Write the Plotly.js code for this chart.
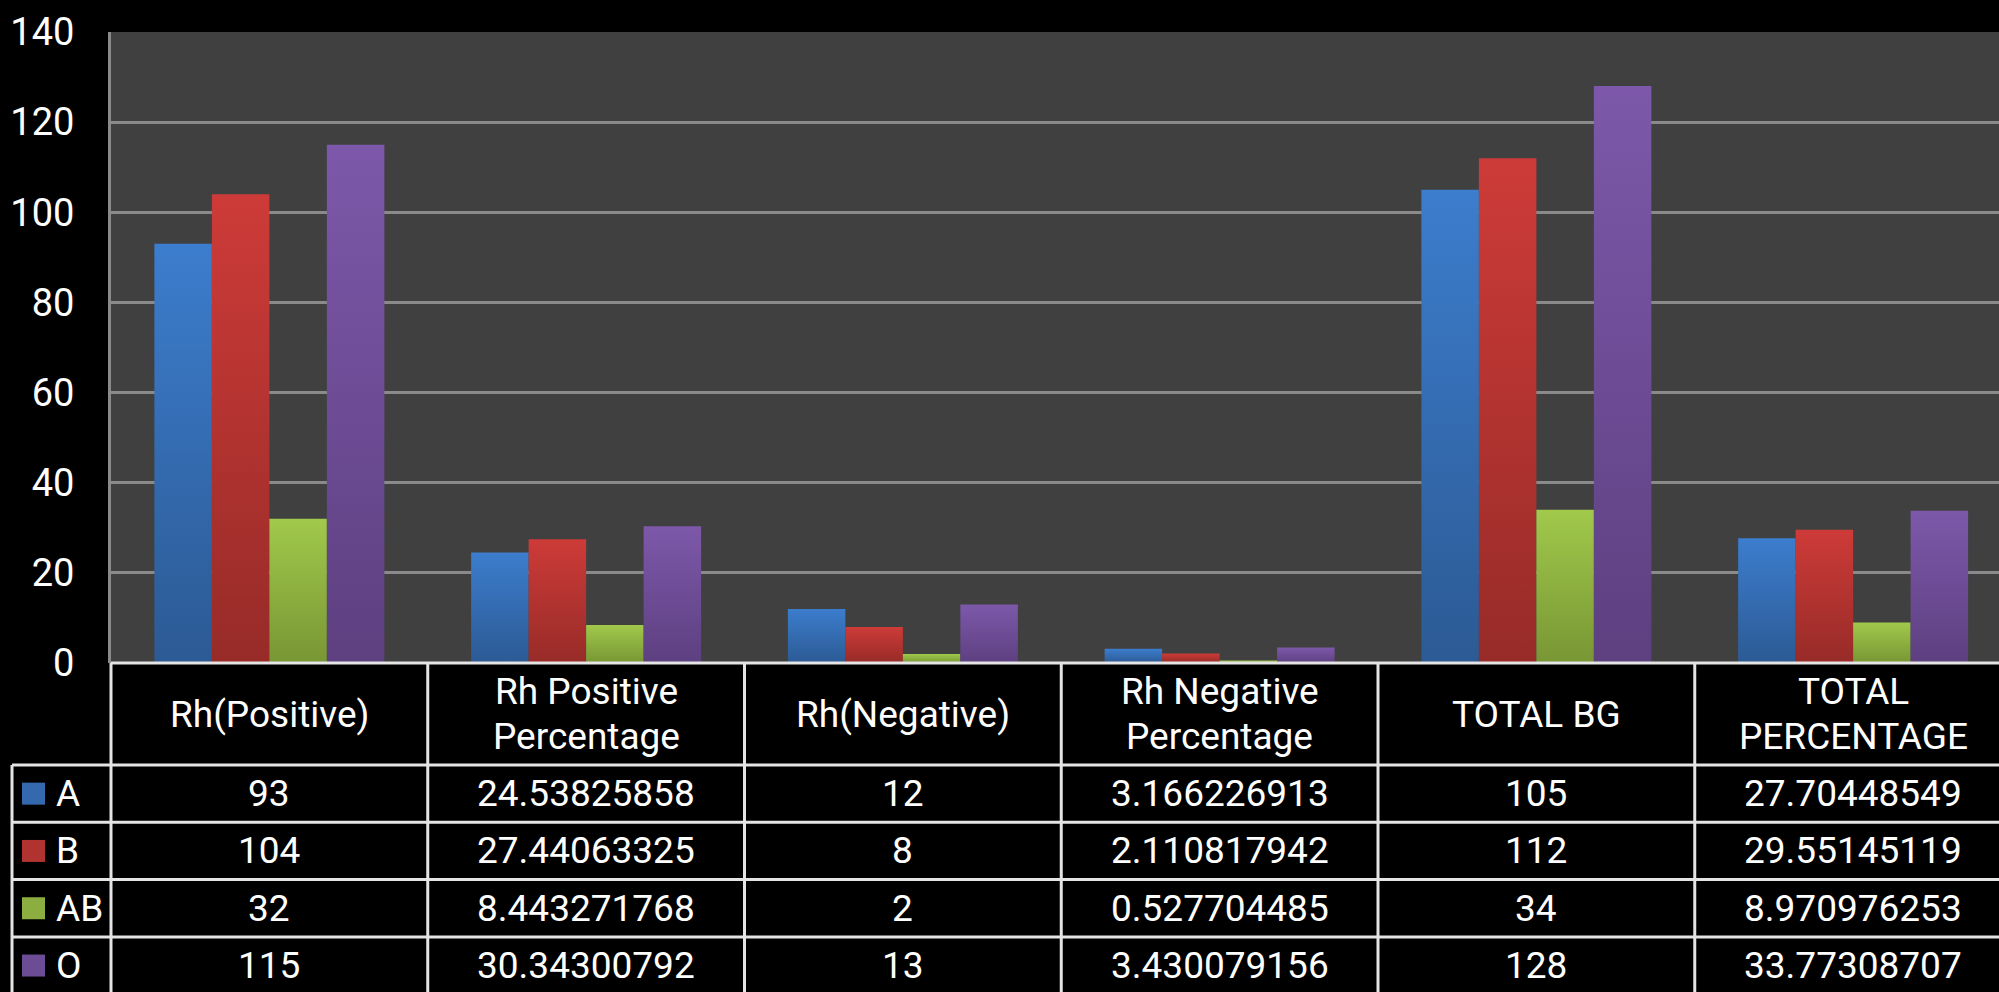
<!DOCTYPE html>
<html>
<head>
<meta charset="utf-8">
<script src="https://cdn.plot.ly/plotly-3.0.1.min.js"></script>
<style>
html,body{margin:0;padding:0;background:#000;}
#chart{width:1999px;height:992px;}
</style>
</head>
<body>
<div id="chart"></div>
<script>
// ---- data ----
const categories = ["Rh(Positive)", "Rh Positive\nPercentage", "Rh(Negative)", "Rh Negative\nPercentage", "TOTAL BG", "TOTAL\nPERCENTAGE"];
const seriesNames = ["A", "B", "AB", "O"];
const valuesA  = [93, 24.53825858, 12, 3.166226913, 105, 27.70448549];
const valuesB  = [104, 27.44063325, 8, 2.110817942, 112, 29.55145119];
const valuesAB = [32, 8.443271768, 2, 0.527704485, 34, 8.970976253];
const valuesO  = [115, 30.34300792, 13, 3.430079156, 128, 33.77308707];
const yTicks = [0, 20, 40, 60, 80, 100, 120, 140];

// ---- styles ----
const topColors = ["#3c7dcd", "#cd3b38", "#a1c94b", "#7d58aa"];
const botColors = ["#2c5a94", "#972b28", "#789634", "#5d4080"];
const midColors = ["#3469ad", "#b13330", "#8cae40", "#6c4c94"];
const FONT = "Roboto, 'Noto Sans', Arial, sans-serif";
const FS = 37;

const W = 1999, H = 992;
const mL = 111, mT = 32, mB = 329;
const plotW = W - mL, plotH = H - mT - mB;
const colW = 316.75;                 // px per category
const nVisible = plotW / colW;       // visible categories
const xRange = [-0.5, nVisible - 0.5];
const headerH = 102, rowH = 57.3;
const legendLeft = 12;

const allValues = [valuesA, valuesB, valuesAB, valuesO];
const xIdx = categories.map((c, i) => i);

const traces = allValues.map((vals, s) => ({
  type: "bar",
  name: seriesNames[s],
  x: xIdx,
  y: vals,
  marker: {color: midColors[s], line: {width: 0}},
  hoverinfo: "skip"
}));

// pixel -> paper helpers
const px2x = X => (X - mL) / plotW;
const px2y = Y => (mT + plotH - Y) / plotH;
const zeroY = mT + plotH;

const shapes = [];
const annotations = [];
const lineCol = "#e4e4e4";
const lw = 3;

// horizontal table lines
const rowTops = [zeroY, zeroY + headerH];
for (let r = 1; r <= seriesNames.length; r++) rowTops.push(zeroY + headerH + r * rowH);
rowTops.forEach((Y, i) => {
  shapes.push({type: "line", xref: "paper", yref: "paper",
    x0: px2x(i === 0 ? mL : legendLeft), x1: 1.01, y0: px2y(Y), y1: px2y(Y),
    line: {color: lineCol, width: lw}});
});
// vertical lines
for (let k = 0; k <= categories.length; k++) {
  shapes.push({type: "line", xref: "paper", yref: "paper",
    x0: px2x(mL + k * colW), x1: px2x(mL + k * colW),
    y0: px2y(zeroY), y1: px2y(H + 20),
    line: {color: lineCol, width: lw}});
}
shapes.push({type: "line", xref: "paper", yref: "paper",
  x0: px2x(legendLeft), x1: px2x(legendLeft),
  y0: px2y(zeroY + headerH), y1: px2y(H + 20),
  line: {color: lineCol, width: lw}});

// header texts
const headerC = zeroY + headerH / 2;
const lineGap = 45;
categories.forEach((c, k) => {
  const lines = c.split("\n");
  lines.forEach((t, li) => {
    const Y = headerC + (li - (lines.length - 1) / 2) * lineGap;
    annotations.push({xref: "paper", yref: "paper", x: px2x(mL + (k + 0.5) * colW), y: px2y(Y),
      text: t, showarrow: false, xanchor: "center", yanchor: "middle",
      font: {family: FONT, size: FS, color: "#ffffff"}});
  });
});

// data rows
allValues.forEach((vals, s) => {
  const Yc = zeroY + headerH + (s + 0.5) * rowH;
  // legend key
  shapes.push({type: "rect", xref: "paper", yref: "paper",
    x0: px2x(22), x1: px2x(45), y0: px2y(Yc - 11), y1: px2y(Yc + 11),
    fillcolor: midColors[s], line: {width: 0}});
  annotations.push({xref: "paper", yref: "paper", x: px2x(54), y: px2y(Yc),
    text: seriesNames[s], showarrow: false, xanchor: "left", yanchor: "middle",
    font: {family: FONT, size: FS, color: "#ffffff"}});
  vals.forEach((v, k) => {
    annotations.push({xref: "paper", yref: "paper", x: px2x(mL + (k + 0.5) * colW), y: px2y(Yc),
      text: String(v), showarrow: false, xanchor: "center", yanchor: "middle",
      font: {family: FONT, size: FS, color: "#ffffff"}});
  });
});

const layout = {
  width: W, height: H,
  paper_bgcolor: "#000000",
  plot_bgcolor: "#404040",
  margin: {l: mL, r: 0, t: mT, b: mB, pad: 0},
  showlegend: false,
  barmode: "group",
  bargap: 0.274,
  bargroupgap: 0,
  font: {family: FONT, size: FS, color: "#ffffff"},
  xaxis: {range: xRange, showticklabels: false, showgrid: false, zeroline: false,
          showline: false, ticks: "", fixedrange: true},
  yaxis: {range: [0, 140], tickvals: yTicks, ticktext: yTicks.map(String),
          showgrid: true, gridcolor: "#8a8a8a", gridwidth: 3,
          zeroline: false, showline: true, linecolor: "#8a8a8a", linewidth: 3,
          ticks: "", ticklabelstandoff: 26, automargin: false,
          tickfont: {family: FONT, size: 38, color: "#ffffff"}, fixedrange: true},
  shapes: shapes,
  annotations: annotations
};

Plotly.newPlot("chart", traces, layout, {staticPlot: true, displayModeBar: false}).then(gd => {
  // vertical gradients on bars (Excel-style shading)
  const svg = gd.querySelector(".main-svg");
  let defs = svg.querySelector("defs");
  const NS = "http://www.w3.org/2000/svg";
  if (!defs) { defs = document.createElementNS(NS, "defs"); svg.insertBefore(defs, svg.firstChild); }
  topColors.forEach((tc, s) => {
    const g = document.createElementNS(NS, "linearGradient");
    g.setAttribute("id", "bargrad" + s);
    g.setAttribute("x1", "0"); g.setAttribute("y1", "0");
    g.setAttribute("x2", "0"); g.setAttribute("y2", "1");
    const s1 = document.createElementNS(NS, "stop");
    s1.setAttribute("offset", "0"); s1.setAttribute("stop-color", tc);
    const s2 = document.createElementNS(NS, "stop");
    s2.setAttribute("offset", "1"); s2.setAttribute("stop-color", botColors[s]);
    g.appendChild(s1); g.appendChild(s2);
    defs.appendChild(g);
  });
  const groups = gd.querySelectorAll(".barlayer .trace");
  groups.forEach((grp, s) => {
    grp.querySelectorAll(".point path").forEach(p => {
      p.style.fill = "url(#bargrad" + s + ")";
    });
  });
});
</script>
</body>
</html>
